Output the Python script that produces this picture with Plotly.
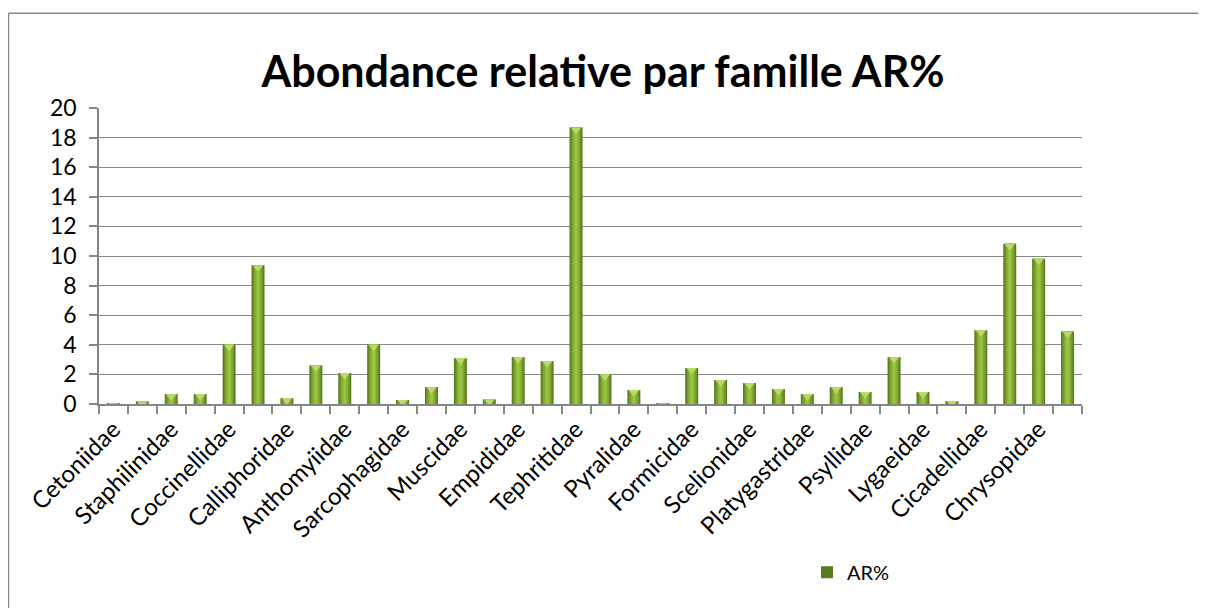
import plotly.graph_objects as go

# ---- data ----
family_labels = ["Cetoniidae", "Staphilinidae", "Coccinellidae", "Calliphoridae",
                 "Anthomyiidae", "Sarcophagidae", "Muscidae", "Empididae",
                 "Tephritidae", "Pyralidae", "Formicidae", "Scelionidae",
                 "Platygastridae", "Psyllidae", "Lygaeidae", "Cicadellidae",
                 "Chrysopidae"]
ar_values = [0.05, 0.18, 0.67, 0.67, 4.02, 9.37, 0.40, 2.61, 2.09, 4.02,
             0.27, 1.15, 3.10, 0.31, 3.17, 2.90, 18.68, 2.00, 0.94, 0.05,
             2.43, 1.62, 1.42, 1.01, 0.67, 1.15, 0.81, 3.17, 0.81, 0.20,
             4.99, 10.83, 9.82, 4.90]
series_name = "AR%"
y_ticks = [0, 2, 4, 6, 8, 10, 12, 14, 16, 18, 20]

x_pos = list(range(len(ar_values)))
label_pos = x_pos[::2]

W, H = 1206, 608
OFF = 8  # page body margin of the html page
# desired plot area in page pixels
PL, PR, PT, PB = 99, 1082, 108, 404.5
ML = PL - OFF
MT = PT - OFF
MR = W - (PR - OFF)
MB = H - (PB - OFF)
FONT = "Lato"
GREY = "#868686"

fig = go.Figure()

# cylinder-like shading: stacked overlays of narrowing widths
layers = [(0.45, "#5a7a20"), (0.37, "#6c9127"), (0.28, "#7ea531"), (0.18, "#8fb73a"), (0.08, "#9cc342")]
for i, (w, c) in enumerate(layers):
    fig.add_trace(go.Bar(
        x=x_pos, y=ar_values, width=w, marker=dict(color=c, line=dict(width=0)),
        name=series_name, showlegend=(i == 0),
    ))

pw = W - ML - MR
ph = H - MT - MB
unit_px = ph / 20.0

# light top facet of each bar
cap_shift = 2.2 / unit_px
fig.add_trace(go.Scatter(
    x=x_pos, y=[v - cap_shift for v in ar_values], mode="markers",
    marker=dict(symbol="triangle-down", size=9, color="#b8da6a", line=dict(width=0)),
    showlegend=False, hoverinfo="skip", cliponaxis=True,
))

def px2x(px):
    return (px - OFF - ML) / pw
def py2y(py):
    return (H - MB - (py - OFF)) / ph

fig.update_layout(
    width=W, height=H,
    margin=dict(l=ML, r=MR, t=MT, b=MB),
    barmode="overlay",
    paper_bgcolor="white", plot_bgcolor="white",
    font=dict(family=FONT, color="black", size=22),
    title=dict(text="<b>Abondance relative par famille AR%</b>",
               x=(603 - OFF) / W, xanchor="center", xref="container",
               y=1 - (72 - OFF) / H, yanchor="middle", yref="container",
               font=dict(family=FONT, size=43, color="black")),
    xaxis=dict(range=[-0.5, len(ar_values) - 0.5],
               tickmode="array", tickvals=label_pos, ticktext=family_labels,
               tickangle=-45, ticks="", showgrid=False,
               showline=True, linecolor=GREY, linewidth=1.5,
               tickfont=dict(family=FONT, size=24),
               minor=dict(tickmode="linear", tick0=-0.5, dtick=1,
                          ticks="outside", ticklen=8, tickcolor=GREY,
                          tickwidth=1.5, showgrid=False)),
    yaxis=dict(range=[0, 20], tickmode="array", tickvals=y_ticks,
               showgrid=True, gridcolor=GREY, gridwidth=1.3,
               showline=True, linecolor=GREY, linewidth=1.5,
               ticks="outside", ticklen=8, tickcolor=GREY, tickwidth=1.5,
               ticklabelstandoff=8,
               zeroline=False, tickfont=dict(family=FONT, size=23)),
    legend=dict(orientation="h", x=px2x(807), y=py2y(573),
                xanchor="left", yanchor="middle",
                font=dict(family=FONT, size=20), itemwidth=30),
    bargap=0.55,
    shapes=[
        dict(type="line", xref="paper", yref="paper",
             x0=px2x(8.5), x1=px2x(W + OFF), y0=py2y(13), y1=py2y(13),
             line=dict(color=GREY, width=1.5)),
        dict(type="line", xref="paper", yref="paper",
             x0=px2x(8.5), x1=px2x(8.5), y0=py2y(13), y1=py2y(H + OFF),
             line=dict(color=GREY, width=1.5)),
    ],
)

fig.write_html("out.html")
